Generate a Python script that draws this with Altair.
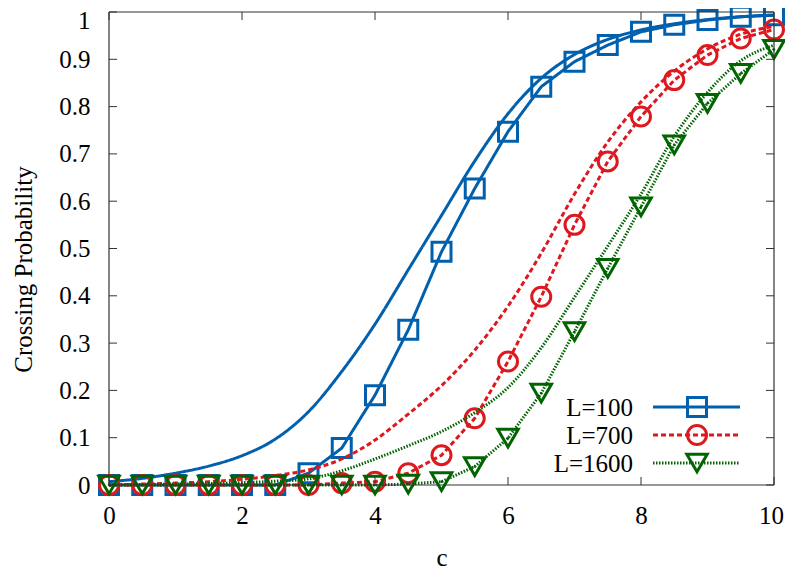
import altair as alt
import pandas as pd

# ---------------- data ----------------
c = [0, 0.5, 1, 1.5, 2, 2.5, 3, 3.5, 4, 4.5, 5, 5.5, 6, 6.5, 7, 7.5, 8, 8.5, 9, 9.5, 10]

# simulation points (markers)
p100 = [0, 0, 0, 0, 0, 0, 0.025, 0.078, 0.19, 0.328, 0.493, 0.627, 0.747, 0.842,
        0.895, 0.93, 0.958, 0.973, 0.983, 0.99, 0.993]
p700 = [0, 0, 0, 0, 0, 0, 0, 0.004, 0.007, 0.025, 0.063, 0.141, 0.261, 0.398,
        0.55, 0.684, 0.779, 0.856, 0.909, 0.944, 0.963]
p1600 = [0, 0, 0, 0, 0, 0, 0, 0, 0, 0.002, 0.007, 0.039, 0.099, 0.194,
         0.324, 0.458, 0.588, 0.719, 0.807, 0.87, 0.921]

# smooth reference curves (no markers)
fit100 = [0.007, 0.014, 0.025, 0.04, 0.062, 0.097, 0.155, 0.24, 0.34, 0.455, 0.57,
          0.685, 0.785, 0.86, 0.91, 0.942, 0.962, 0.975, 0.984, 0.99, 0.994]
fit700 = [0.0, 0.002, 0.004, 0.007, 0.012, 0.02, 0.032, 0.055, 0.095, 0.15, 0.21,
          0.285, 0.378, 0.49, 0.615, 0.725, 0.81, 0.875, 0.922, 0.953, 0.97]
fit1600 = [0.0, 0.001, 0.002, 0.003, 0.005, 0.008, 0.013, 0.03, 0.055, 0.083, 0.113,
           0.153, 0.206, 0.29, 0.397, 0.505, 0.615, 0.737, 0.83, 0.897, 0.93]

labels = ["L=100", "L=700", "L=1600"]
points = [p100, p700, p1600]
fits = [fit100, fit700, fit1600]

x_ticks = [0, 2, 4, 6, 8, 10]
y_ticks = [0, 0.1, 0.2, 0.3, 0.4, 0.5, 0.6, 0.7, 0.8, 0.9, 1]

# ---------------- styles ----------------
colors = ["#0060ad", "#dd181f", "#006400"]
shapes = ["square", "circle", "triangle-down"]
sizes = [361, 361, 420]
dashes = [[1, 0], [5, 3], [1.5, 1.5]]
FONT = "Liberation Serif"
FS = 25
W, H = 665, 473
FRAME = "#333333"
TICK = 8

xs = alt.Scale(domain=[0, 10], nice=False, zero=False)
ys = alt.Scale(domain=[0, 1], nice=False, zero=False)

x_axis = alt.Axis(values=x_ticks, format="d", title="c", grid=False, domain=False,
                  ticks=False, tickSize=0, labelPadding=38, labelBaseline="alphabetic",
                  labelOffset={"condition": {"test": "datum.value >= 10", "value": -3},
                               "value": 0},
                  titleY=80, titleBaseline="alphabetic", labelFlush=False)
y_axis = alt.Axis(values=y_ticks, format="~r", title="Crossing Probability", grid=False,
                  domain=False, ticks=False, tickSize=0, labelPadding=19,
                  labelOffset={"condition": {"test": "datum.value >= 1", "value": 8},
                               "value": 0},
                  titleX=-78, titleY=257, titleAngle=270, titleAlign="center",
                  titleBaseline="alphabetic", labelFlush=False)


def X(field):
    return alt.X(field, scale=xs, axis=x_axis)


def Y(field):
    return alt.Y(field, scale=ys, axis=y_axis)


layers = []
for i in range(3):
    df = pd.DataFrame({"c": c, "p": points[i], "f": fits[i]})
    fit_line = alt.Chart(df).mark_line(
        color=colors[i], strokeWidth=3, strokeDash=dashes[i], interpolate="monotone"
    ).encode(x=X("c:Q"), y=Y("f:Q"))
    data_line = alt.Chart(df).mark_line(
        color=colors[i], strokeWidth=3, strokeDash=dashes[i]
    ).encode(x=X("c:Q"), y=Y("p:Q"))
    pts = alt.Chart(df).mark_point(
        shape=shapes[i], size=sizes[i], filled=False, color=colors[i], strokeWidth=3,
        opacity=1
    ).encode(x=X("c:Q"), y=Y("p:Q"))
    layers += [fit_line, data_line, pts]

# small centre dots of gnuplot's triangles
dot_df = pd.DataFrame({"c": c, "p": p1600})
layers.append(
    alt.Chart(dot_df).mark_point(shape="circle", size=6, filled=True, color=colors[2],
                                 opacity=1)
    .encode(x=X("c:Q"), y=Y("p:Q"))
)

# inward tick marks on all four sides
xt = pd.DataFrame({"c": x_ticks})
yt = pd.DataFrame({"p": y_ticks})
layers.append(alt.Chart(xt).mark_rule(color=FRAME, strokeWidth=1).encode(
    x=X("c:Q"), y=alt.value(H), y2=alt.value(H - TICK)))
layers.append(alt.Chart(xt).mark_rule(color=FRAME, strokeWidth=1).encode(
    x=X("c:Q"), y=alt.value(0), y2=alt.value(TICK)))
layers.append(alt.Chart(yt).mark_rule(color=FRAME, strokeWidth=1).encode(
    y=Y("p:Q"), x=alt.value(0), x2=alt.value(TICK)))
layers.append(alt.Chart(yt).mark_rule(color=FRAME, strokeWidth=1).encode(
    y=Y("p:Q"), x=alt.value(W - TICK), x2=alt.value(W)))

# frame (drawn on top, as gnuplot does)
frame_df = pd.DataFrame({"k": [0]})
for enc in [
    dict(x=alt.value(0), x2=alt.value(W), y=alt.value(0)),
    dict(x=alt.value(0), x2=alt.value(W), y=alt.value(H)),
    dict(y=alt.value(0), y2=alt.value(H), x=alt.value(0)),
    dict(y=alt.value(0), y2=alt.value(H), x=alt.value(W)),
]:
    layers.append(alt.Chart(frame_df).mark_rule(color=FRAME, strokeWidth=1.2).encode(**enc))

# key (bottom right, label left of sample)
row_y = [395, 423, 451]
for i in range(3):
    ldf = pd.DataFrame({"label": [labels[i]]})
    layers.append(alt.Chart(ldf).mark_text(
        align="right", baseline="middle", font=FONT, fontSize=FS, color="black", dy=1
    ).encode(x=alt.value(524), y=alt.value(row_y[i]), text="label:N"))
    layers.append(alt.Chart(ldf).mark_rule(
        color=colors[i], strokeWidth=3, strokeDash=dashes[i]
    ).encode(x=alt.value(544), x2=alt.value(631), y=alt.value(row_y[i])))
    layers.append(alt.Chart(ldf).mark_point(
        shape=shapes[i], size=sizes[i], filled=False, color=colors[i], strokeWidth=3,
        opacity=1
    ).encode(x=alt.value(588), y=alt.value(row_y[i])))

chart = alt.layer(*layers).properties(
    width=W, height=H,
    autosize=alt.AutoSizeParams(type="none"),
    padding={"left": 101, "top": 4, "right": 11, "bottom": 92},
).configure_view(stroke=None).configure_axis(
    labelFont=FONT, labelFontSize=FS, labelColor="black",
    titleFont=FONT, titleFontSize=FS, titleColor="black", titleFontWeight="normal",
)

chart.save("out.html", embed_options={"renderer": "svg", "actions": False})
